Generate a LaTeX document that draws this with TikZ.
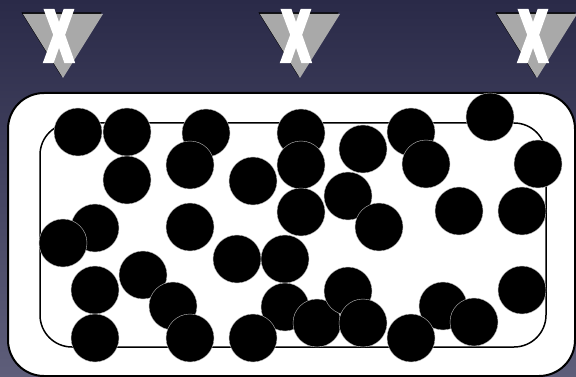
\documentclass[tikz,border=0pt]{standalone}
\usepackage{fontspec}
\setmainfont{Liberation Sans}
\usepackage{graphicx}
\usetikzlibrary{positioning}
\definecolor{bgtop}{HTML}{2A2A48}
\definecolor{bgbottom}{HTML}{5E5E7A}
\definecolor{markgray}{HTML}{A9A9A9}
\newcommand{\heavyx}{\scalebox{0.56}[1]{\special{pdf:literal direct 2 Tr 7.5 w 0 j 4 M 1 1 1 RG}X\special{pdf:literal direct 0 Tr 1 w}}}

\begin{document}
\begin{tikzpicture}[
  x=1pt, y=-1pt,
  ball/.style={circle, fill=black, draw=gray!50, line width=0.4pt, minimum size=48pt, inner sep=0pt},
  tray/.style={draw=black, fill=white, line width=2pt, rounded corners=36pt},
  lane/.style={draw=black, line width=1.5pt, rounded corners=32pt},
  marker/.style={fill=markgray},
  markerrim/.style={fill=black},
  cross/.style={text=white, font=\fontsize{68}{68}\selectfont\bfseries, inner sep=0pt},
]
  % background
  \shade[top color=bgtop, bottom color=bgbottom] (0,0) rectangle (576,377);
  \useasboundingbox (0,0) rectangle (576,377);
  \clip (0,0) rectangle (576,377);

  % tray and inner lane
  \path[tray] (8,93) rectangle (575,376);
  \path[lane] (40,123) rectangle (546,347);

  % balls
  \foreach \x/\y [count=\i] in {
    78/132, 127/132, 206/133, 301/133, 363/149, 411/132, 490/117, 538/164,
    127/180, 190/165, 253/181, 301/165, 348/196, 426/164, 459/211, 522/211,
    301/212, 379/227, 95/228, 63/243, 190/227, 237/259, 285/259, 143/275,
    95/290, 173/306, 285/307, 317/323, 348/291, 363/323, 443/306, 474/322,
    522/290, 95/338, 190/338, 253/338, 411/338}
    \node[ball] (b\i) at (\x,\y) {};

  % markers
  \foreach \x/\t [count=\i] in {63/59, 300/296, 537/533} {
    \fill[markerrim] (\x-41.5,12.5) -- (\x+38.5,12.5) -- (\x-1.5,76.5) -- cycle;
    \fill[marker] (\x-40,14) -- (\x+40,14) -- (\x,78) -- cycle;
    \node[cross] (x\i) at (\t,36) {\heavyx};
  }
\end{tikzpicture}
\end{document}
